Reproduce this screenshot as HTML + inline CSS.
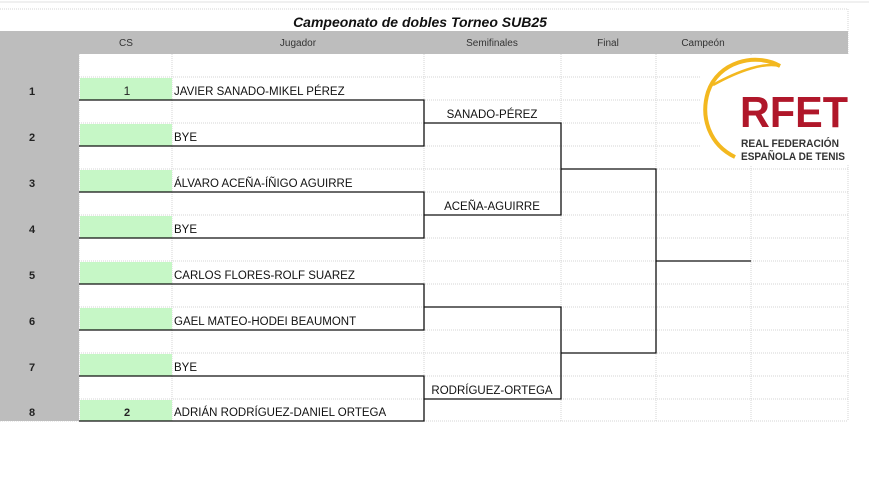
<!DOCTYPE html>
<html><head><meta charset="utf-8"><style>
body{margin:0;background:#fff;width:869px;height:479px;overflow:hidden}
svg{display:block}
text{font-family:"Liberation Sans",Arial,sans-serif}
</style></head><body>
<svg width="869" height="479" viewBox="0 0 869 479" xmlns="http://www.w3.org/2000/svg">
<rect width="869" height="479" fill="#fff"/>
<line x1="0" y1="2" x2="869" y2="2" stroke="#e0e0e0"/>
<g stroke="#d4d4d4" stroke-dasharray="1,1" stroke-width="1">
<line x1="0" y1="9" x2="848" y2="9"/>
<line x1="848" y1="9" x2="848" y2="421"/>
<line x1="79" y1="54" x2="79" y2="421"/>
<line x1="172" y1="54" x2="172" y2="421"/>
<line x1="424" y1="54" x2="424" y2="421"/>
<line x1="561" y1="54" x2="561" y2="421"/>
<line x1="656" y1="54" x2="656" y2="421"/>
<line x1="751" y1="54" x2="751" y2="421"/>
<line x1="79" y1="77" x2="848" y2="77"/><line x1="79" y1="100" x2="848" y2="100"/>
<line x1="79" y1="123" x2="848" y2="123"/><line x1="79" y1="146" x2="848" y2="146"/>
<line x1="79" y1="169" x2="848" y2="169"/><line x1="79" y1="192" x2="848" y2="192"/>
<line x1="79" y1="215" x2="848" y2="215"/><line x1="79" y1="238" x2="848" y2="238"/>
<line x1="79" y1="261" x2="848" y2="261"/><line x1="79" y1="284" x2="848" y2="284"/>
<line x1="79" y1="307" x2="848" y2="307"/><line x1="79" y1="330" x2="848" y2="330"/>
<line x1="79" y1="353" x2="848" y2="353"/><line x1="79" y1="376" x2="848" y2="376"/>
<line x1="79" y1="399" x2="848" y2="399"/><line x1="0" y1="421" x2="848" y2="421"/>
</g>
<rect x="0" y="31" width="848" height="23" fill="#bdbdbd"/>
<rect x="0" y="54" width="79" height="367" fill="#bdbdbd"/>
<g fill="#c6f7c6">
<rect x="80" y="78" width="92" height="22"/><rect x="80" y="124" width="92" height="22"/>
<rect x="80" y="170" width="92" height="22"/><rect x="80" y="216" width="92" height="22"/>
<rect x="80" y="262" width="92" height="22"/><rect x="80" y="308" width="92" height="22"/>
<rect x="80" y="354" width="92" height="22"/><rect x="80" y="400" width="92" height="21"/>
</g>
<text x="420" y="27" text-anchor="middle" font-size="14" font-weight="bold" font-style="italic" fill="#111">Campeonato de dobles Torneo SUB25</text>
<g font-size="10" fill="#333" text-anchor="middle">
<text x="126" y="46">CS</text><text x="298" y="46">Jugador</text><text x="492" y="46">Semifinales</text>
<text x="608" y="46">Final</text><text x="703" y="46">Campeón</text>
</g>
<g font-size="11" font-weight="bold" fill="#222" text-anchor="middle">
<text x="32" y="95">1</text><text x="32" y="141">2</text><text x="32" y="187">3</text><text x="32" y="233">4</text>
<text x="32" y="279">5</text><text x="32" y="325">6</text><text x="32" y="371">7</text><text x="32" y="416">8</text>
<text x="127" y="95" font-weight="normal" font-size="12">1</text><text x="127" y="416">2</text>
</g>
<g font-size="11.5" fill="#111">
<text x="174" y="95">JAVIER SANADO-MIKEL PÉREZ</text>
<text x="174" y="141">BYE</text>
<text x="174" y="187">ÁLVARO ACEÑA-ÍÑIGO AGUIRRE</text>
<text x="174" y="233">BYE</text>
<text x="174" y="279">CARLOS FLORES-ROLF SUAREZ</text>
<text x="174" y="325">GAEL MATEO-HODEI BEAUMONT</text>
<text x="174" y="371">BYE</text>
<text x="174" y="416">ADRIÁN RODRÍGUEZ-DANIEL ORTEGA</text>
<text x="492" y="118" text-anchor="middle">SANADO-PÉREZ</text>
<text x="492" y="210" text-anchor="middle">ACEÑA-AGUIRRE</text>
<text x="492" y="394" text-anchor="middle">RODRÍGUEZ-ORTEGA</text>
</g>
<g stroke="#111" stroke-width="1.3" fill="none">
<polyline points="79,100 424,100 424,146 79,146"/>
<polyline points="79,192 424,192 424,238 79,238"/>
<polyline points="79,284 424,284 424,330 79,330"/>
<polyline points="79,376 424,376 424,421 79,421"/>
<polyline points="424,123 561,123 561,215 424,215"/>
<polyline points="424,307 561,307 561,399 424,399"/>
<polyline points="561,169 656,169 656,353 561,353"/>
<line x1="656" y1="261" x2="751" y2="261"/>
</g>
<rect x="700" y="55" width="150" height="110" fill="#fff"/>
<path d="M780 66 C755 52 718 62 708 92 C700 118 710 145 735 157" stroke="#f3b81f" stroke-width="4" fill="none"/>
<path d="M713 85 C740 70 765 62 780 66" stroke="#f3b81f" stroke-width="2.5" fill="none"/>
<text x="740" y="127" font-size="44" font-weight="bold" fill="#b0172a" textLength="108" lengthAdjust="spacingAndGlyphs">RFET</text>
<text x="741" y="147" font-size="11" font-weight="bold" fill="#333" textLength="98" lengthAdjust="spacingAndGlyphs">REAL FEDERACIÓN</text>
<text x="741" y="160" font-size="11" font-weight="bold" fill="#333" textLength="104" lengthAdjust="spacingAndGlyphs">ESPAÑOLA DE TENIS</text>
</svg>
</body></html>
